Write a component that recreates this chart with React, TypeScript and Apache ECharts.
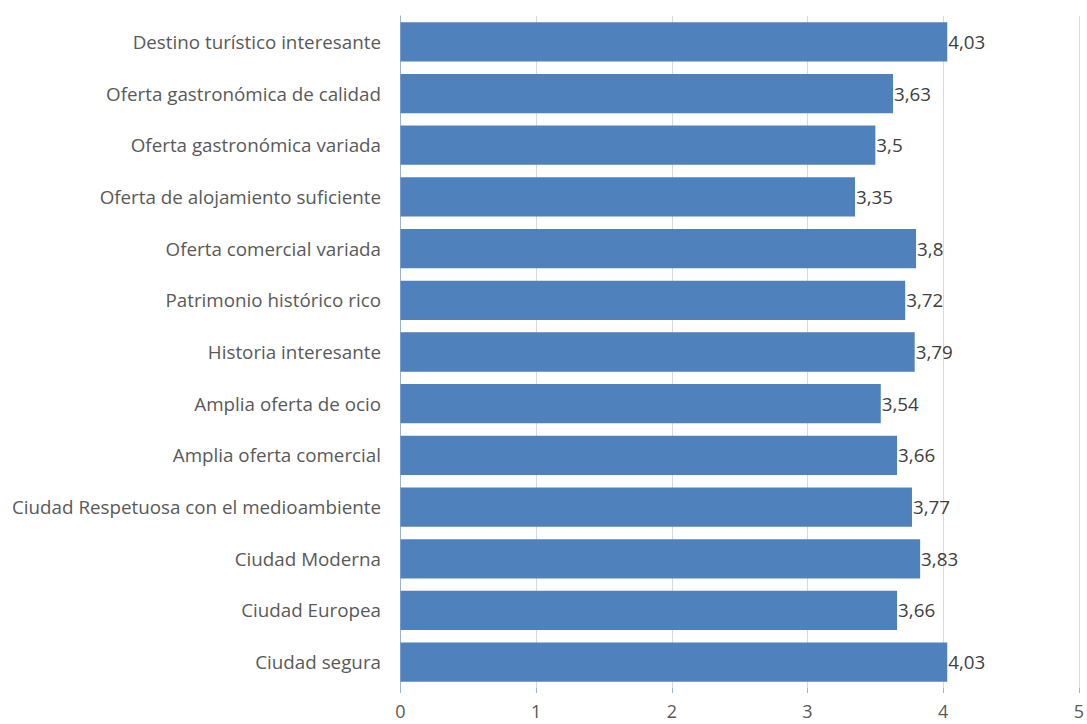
import React, { useEffect, useRef } from "react";
import * as echarts from "echarts";

const categories = [
  "Destino turístico interesante",
  "Oferta gastronómica de calidad",
  "Oferta gastronómica variada",
  "Oferta de alojamiento suficiente",
  "Oferta comercial variada",
  "Patrimonio histórico rico",
  "Historia interesante",
  "Amplia oferta de ocio",
  "Amplia oferta comercial",
  "Ciudad Respetuosa con el medioambiente",
  "Ciudad Moderna",
  "Ciudad Europea",
  "Ciudad segura",
];
const values = [4.03, 3.63, 3.5, 3.35, 3.8, 3.72, 3.79, 3.54, 3.66, 3.77, 3.83, 3.66, 4.03];
const xTicks = [0, 1, 2, 3, 4, 5];

const FONT = "'Open Sans', sans-serif";

export default function App() {
  const ref = useRef<HTMLDivElement>(null);
  useEffect(() => {
    if (!ref.current) return;
    const chart = echarts.init(ref.current, undefined, { renderer: "svg" });
    chart.setOption({
      animation: false,
      grid: { left: 400.5, right: 4.5, top: 16, bottom: 36, containLabel: false },
      xAxis: {
        type: "value",
        min: xTicks[0],
        max: xTicks[xTicks.length - 1],
        interval: 1,
        axisLine: { show: false },
        axisTick: { show: true, length: 5, lineStyle: { color: "#9bb3d4" } },
        splitLine: { show: true, lineStyle: { color: "#d9d9d9", width: 1 } },
        axisLabel: { color: "#595959", fontSize: 18, lineHeight: 18, fontFamily: FONT, margin: 14 },
      },
      yAxis: {
        type: "category",
        data: categories,
        inverse: true,
        axisLine: { show: true, lineStyle: { color: "#9bb3d4", width: 1 } },
        axisTick: { show: false },
        axisLabel: { color: "#595959", fontSize: 18.8, fontFamily: FONT, margin: 19.5 },
      },
      series: [
        {
          type: "bar",
          data: values,
          barCategoryGap: "24%",
          itemStyle: { color: "#4f81bd" },
          label: {
            show: true,
            position: "right",
            distance: 1,
            color: "#404040",
            fontSize: 18.8,
            fontFamily: FONT,
            formatter: (p: any) => String(p.value).replace(".", ","),
          },
        },
      ],
    });
    return () => chart.dispose();
  }, []);
  return <div ref={ref} style={{ width: 1087, height: 724, position: "absolute", left: 0, top: 0 }} />;
}
